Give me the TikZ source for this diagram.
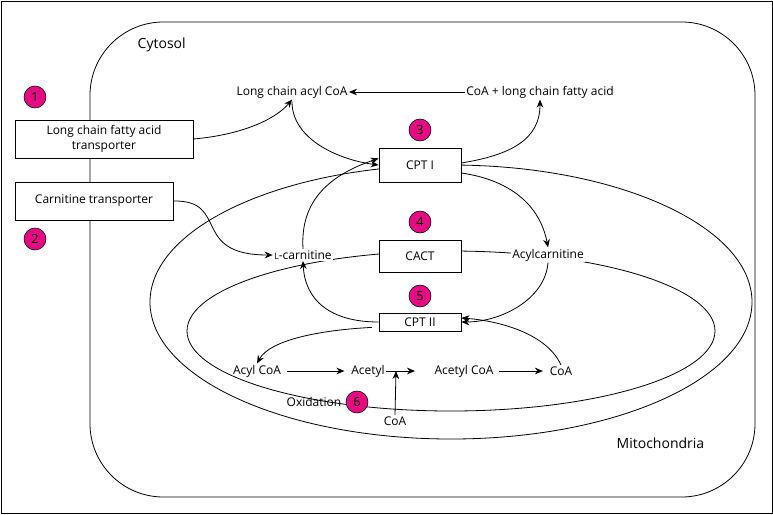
\documentclass[tikz,border=0pt]{standalone}
\usepackage{fontspec}
\setmainfont{Open Sans}
\usetikzlibrary{arrows.meta}
\begin{document}
\begin{tikzpicture}[x=0.75pt,y=-0.75pt,font=\fontsize{9}{11}\selectfont,
  box/.style={draw,fill=white,line width=0.6pt,minimum height=#1,align=center},
  num/.style={circle,draw,fill=magenta!85!purple,inner sep=0pt,minimum size=16.5pt,font=\fontsize{9.5}{10}\selectfont},
  arr/.style={-{Stealth[length=6pt,width=5pt]},line width=0.6pt},
  lbl/.style={inner sep=1pt}]
\useasboundingbox (0,0) rectangle (773,514);
\draw[line width=0.6pt] (1,1) rectangle (772,513);
\draw[line width=0.6pt,rounded corners=55pt] (90,22) rectangle (755,497);
\node[anchor=west] (cyt) at (133,45) {\fontsize{10.5}{12}\selectfont Cytosol};
\draw[line width=0.6pt] (451,302) ellipse [x radius=301, y radius=137];
\draw[line width=0.6pt] (451,331) ellipse [x radius=264, y radius=80];
\node[anchor=west] (mito) at (612,443) {\fontsize{10.5}{12}\selectfont Mitochondria};
% boxes
\node[box=28.5pt,minimum width=133.5pt] (lcfa) at (104,139) {Long chain fatty acid\\transporter};
\node[box=28.5pt,minimum width=118.5pt] (ct) at (94,201) {Carnitine transporter};
\node[box=25.5pt,minimum width=61.5pt] (cpt1) at (420,165) {CPT I};
\node[box=24pt,minimum width=61.5pt] (cact) at (420,256) {CACT};
\node[box=13.5pt,minimum width=61.5pt,inner sep=1pt] (cpt2) at (420,322) {CPT II};
% numbers
\node[num] (n1) at (35,97) {1};
\node[num] (n2) at (35,239) {2};
\node[num] (n3) at (420,130) {3};
\node[num] (n4) at (420,222) {4};
\node[num] (n5) at (420,296) {5};
\node[num] (n6) at (357,402) {6};
% labels
\node[lbl] (lcac) at (292,92) {Long chain acyl CoA};
\node[lbl] (coalc) at (540,92) {CoA + long chain fatty acid};
\node[lbl,fill=white] (lcar) at (303,255) {{\fontsize{6.5}{7}\selectfont L}-carnitine};
\node[lbl,fill=white] (acyl) at (548,255) {Acylcarnitine};
\node[lbl] (acoa) at (257,371) {Acyl CoA};
\node[lbl] (acet) at (368,371) {Acetyl};
\node[lbl] (acetc) at (464,371) {Acetyl CoA};
\node[lbl] (coa) at (561,371) {CoA};
\node[lbl] (ox) at (314,402) {Oxidation};
\node[lbl] (coa2) at (395,421) {CoA};
\coordinate (jn) at (396,371);
% arrows
\draw[arr] (coalc.west) -- (lcac.east);
\draw[arr] (lcfa.east) .. controls (240,135) and (275,120) .. (lcac.south);
\draw[arr] (lcac.south) ++(0,2) .. controls (292,140) and (340,160) .. (cpt1.west);
\draw[arr] (cpt1.east) ++(0,-2) .. controls (510,155) and (540,140) .. (coalc.south);
\draw[arr] (cpt1.east) ++(0,8) .. controls (510,180) and (540,205) .. (acyl.north);
\draw[arr] (acyl.south) .. controls (545,300) and (500,322) .. (cpt2.east);
\draw[arr] (cpt2.west) .. controls (330,322) and (305,300) .. (lcar.south);
\draw[arr] (lcar.north) .. controls (300,200) and (330,175) .. ([yshift=5pt]cpt1.west);
\draw[arr] (ct.east) .. controls (230,200) and (190,255) .. (lcar.west);
\draw[arr] ([xshift=-20pt]cpt2.south west) ++(20,-4) .. controls (320,330) and (270,340) .. (acoa.north);
\draw[arr] (coa.north) .. controls (545,330) and (490,320) .. ([yshift=3pt]cpt2.east);
\draw[arr] (acoa.east) ++(4,0) -- ([xshift=-4pt]acet.west);
\draw[arr] (acet.east) -- (415,371);
\draw[arr] (acetc.east) ++(4,0) -- ([xshift=-4pt]coa.west);
\draw[arr] (coa2.north) -- (jn);
\end{tikzpicture}
\end{document}
